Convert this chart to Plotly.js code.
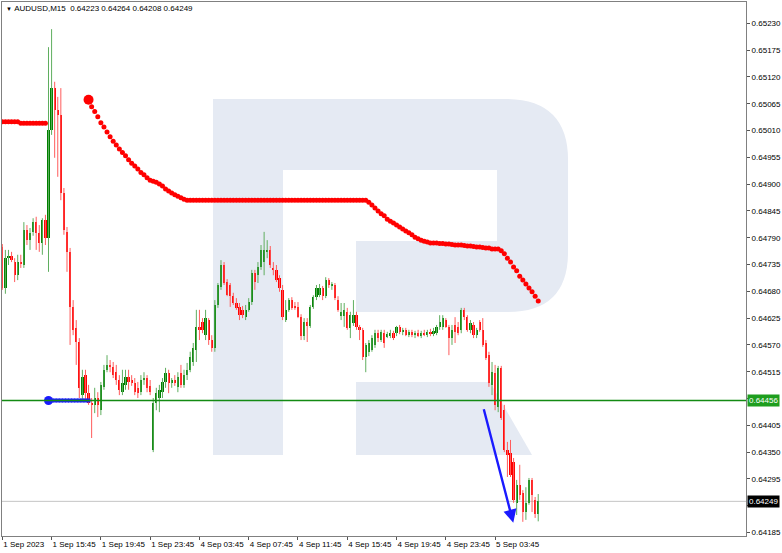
<!DOCTYPE html>
<html><head><meta charset="utf-8">
<script src="https://cdn.plot.ly/plotly-3.0.1.min.js"></script>
<style>html,body{margin:0;padding:0;background:#fff}#chart{width:782px;height:553px}</style>
</head><body><div id="chart"></div>
<script>
const symbol = 'AUDUSD,M15';
const open = [
0.64771,0.64687,0.64748,0.64752,0.64740,0.64713,0.64740,0.64734,0.64806,0.64785,
0.64802,0.64822,0.64800,0.64779,0.64826,0.64789,0.65011,0.65097,0.65052,0.65042,
0.64882,0.64802,0.64761,0.64648,0.64605,0.64576,0.64467,0.64508,0.64471,0.64451,
0.64447,0.64461,0.64436,0.64484,0.64519,0.64529,0.64525,0.64514,0.64498,0.64473,
0.64488,0.64504,0.64498,0.64492,0.64482,0.64473,0.64498,0.64502,0.64486,0.64354,
0.64451,0.64461,0.64473,0.64494,0.64512,0.64492,0.64498,0.64484,0.64512,0.64488,
0.64508,0.64519,0.64535,0.64560,0.64607,0.64617,0.64590,0.64621,0.64580,0.64564,
0.64652,0.64689,0.64734,0.64699,0.64693,0.64670,0.64656,0.64648,0.64642,0.64627,
0.64642,0.64658,0.64718,0.64713,0.64730,0.64740,0.64761,0.64765,0.64728,0.64724,
0.64707,0.64683,0.64621,0.64642,0.64662,0.64650,0.64648,0.64627,0.64588,0.64617,
0.64609,0.64648,0.64668,0.64672,0.64687,0.64670,0.64703,0.64691,0.64693,0.64662,
0.64629,0.64629,0.64638,0.64605,0.64615,0.64631,0.64607,0.64601,0.64545,0.64556,
0.64560,0.64570,0.64594,0.64580,0.64594,0.64586,0.64588,0.64594,0.64594,0.64607,
0.64597,0.64601,0.64590,0.64597,0.64590,0.64594,0.64588,0.64594,0.64590,0.64597,
0.64592,0.64594,0.64607,0.64607,0.64621,0.64607,0.64584,0.64611,0.64607,0.64601,
0.64642,0.64627,0.64601,0.64611,0.64590,0.64617,0.64601,0.64574,0.64549,0.64488,
0.64512,0.64443,0.64523,0.64436,0.64354,0.64348,0.64330,0.64246,0.64283,0.64266,
0.64227,0.64246,0.64293,0.64252,0.64223];
const high = [
0.64777,0.64765,0.64765,0.64761,0.64748,0.64755,0.64755,0.64822,0.64816,0.64810,
0.64830,0.64833,0.64816,0.64830,0.64837,0.65181,0.65218,0.65110,0.65079,0.65097,
0.64892,0.64812,0.64769,0.64662,0.64621,0.64584,0.64519,0.64519,0.64488,0.64461,
0.64482,0.64473,0.64494,0.64529,0.64549,0.64539,0.64535,0.64529,0.64508,0.64519,
0.64519,0.64519,0.64508,0.64502,0.64494,0.64508,0.64514,0.64508,0.64498,0.64461,
0.64482,0.64488,0.64502,0.64523,0.64519,0.64502,0.64508,0.64514,0.64529,0.64519,
0.64533,0.64556,0.64574,0.64642,0.64642,0.64625,0.64642,0.64625,0.64590,0.64662,
0.64697,0.64744,0.64740,0.64705,0.64697,0.64677,0.64666,0.64656,0.64650,0.64652,
0.64666,0.64724,0.64724,0.64740,0.64775,0.64802,0.64785,0.64773,0.64740,0.64734,
0.64713,0.64693,0.64662,0.64666,0.64668,0.64658,0.64658,0.64633,0.64625,0.64625,
0.64652,0.64672,0.64693,0.64695,0.64691,0.64709,0.64707,0.64699,0.64697,0.64670,
0.64656,0.64656,0.64646,0.64638,0.64662,0.64638,0.64611,0.64605,0.64574,0.64580,
0.64590,0.64601,0.64601,0.64601,0.64601,0.64597,0.64601,0.64599,0.64609,0.64611,
0.64605,0.64605,0.64601,0.64601,0.64599,0.64601,0.64599,0.64601,0.64601,0.64603,
0.64605,0.64611,0.64631,0.64631,0.64625,0.64611,0.64611,0.64627,0.64617,0.64646,
0.64646,0.64631,0.64621,0.64617,0.64605,0.64621,0.64625,0.64580,0.64556,0.64535,
0.64529,0.64527,0.64527,0.64447,0.64371,0.64375,0.64338,0.64293,0.64324,0.64272,
0.64278,0.64297,0.64297,0.64258,0.64264];
const low = [
0.64683,0.64675,0.64734,0.64740,0.64699,0.64703,0.64728,0.64728,0.64775,0.64765,
0.64794,0.64765,0.64761,0.64755,0.64775,0.64720,0.65001,0.64954,0.64915,0.64867,
0.64796,0.64720,0.64570,0.64590,0.64529,0.64461,0.64457,0.64457,0.64447,0.64379,
0.64430,0.64422,0.64426,0.64478,0.64514,0.64514,0.64502,0.64488,0.64467,0.64467,
0.64478,0.64478,0.64486,0.64467,0.64461,0.64467,0.64488,0.64473,0.64467,0.64350,
0.64436,0.64432,0.64461,0.64482,0.64471,0.64482,0.64486,0.64473,0.64482,0.64482,
0.64498,0.64514,0.64527,0.64535,0.64580,0.64594,0.64580,0.64570,0.64556,0.64556,
0.64646,0.64683,0.64693,0.64670,0.64648,0.64652,0.64642,0.64621,0.64625,0.64621,
0.64638,0.64652,0.64683,0.64697,0.64724,0.64713,0.64748,0.64728,0.64713,0.64699,
0.64679,0.64621,0.64617,0.64638,0.64642,0.64642,0.64625,0.64580,0.64580,0.64576,
0.64605,0.64644,0.64662,0.64668,0.64662,0.64666,0.64687,0.64683,0.64662,0.64638,
0.64621,0.64607,0.64601,0.64584,0.64609,0.64601,0.64580,0.64539,0.64514,0.64547,
0.64556,0.64564,0.64576,0.64576,0.64564,0.64584,0.64584,0.64580,0.64588,0.64592,
0.64590,0.64588,0.64586,0.64586,0.64584,0.64586,0.64584,0.64588,0.64586,0.64588,
0.64588,0.64590,0.64601,0.64601,0.64605,0.64549,0.64570,0.64574,0.64590,0.64594,
0.64621,0.64597,0.64594,0.64584,0.64584,0.64597,0.64566,0.64539,0.64484,0.64467,
0.64436,0.64432,0.64416,0.64350,0.64299,0.64299,0.64246,0.64221,0.64252,0.64207,
0.64211,0.64242,0.64227,0.64215,0.64208];
const close = [
0.64687,0.64748,0.64752,0.64744,0.64713,0.64740,0.64736,0.64806,0.64785,0.64800,
0.64822,0.64800,0.64779,0.64826,0.64789,0.65011,0.65097,0.65052,0.65042,0.64882,
0.64806,0.64761,0.64648,0.64601,0.64576,0.64482,0.64504,0.64471,0.64451,0.64447,
0.64461,0.64447,0.64488,0.64519,0.64529,0.64525,0.64508,0.64498,0.64478,0.64492,
0.64504,0.64494,0.64492,0.64473,0.64471,0.64498,0.64502,0.64482,0.64473,0.64451,
0.64471,0.64478,0.64494,0.64512,0.64492,0.64498,0.64492,0.64504,0.64488,0.64508,
0.64519,0.64545,0.64564,0.64607,0.64601,0.64601,0.64625,0.64580,0.64564,0.64652,
0.64693,0.64734,0.64697,0.64672,0.64670,0.64656,0.64646,0.64631,0.64631,0.64642,
0.64658,0.64718,0.64699,0.64730,0.64765,0.64765,0.64765,0.64734,0.64724,0.64703,
0.64687,0.64627,0.64642,0.64662,0.64646,0.64646,0.64627,0.64588,0.64617,0.64609,
0.64648,0.64668,0.64687,0.64687,0.64670,0.64703,0.64693,0.64695,0.64666,0.64642,
0.64638,0.64642,0.64605,0.64631,0.64631,0.64607,0.64601,0.64545,0.64570,0.64574,
0.64584,0.64594,0.64584,0.64597,0.64574,0.64592,0.64594,0.64584,0.64607,0.64597,
0.64601,0.64590,0.64597,0.64590,0.64594,0.64588,0.64594,0.64590,0.64597,0.64592,
0.64599,0.64607,0.64617,0.64625,0.64607,0.64584,0.64601,0.64597,0.64594,0.64642,
0.64627,0.64601,0.64615,0.64590,0.64601,0.64601,0.64570,0.64543,0.64492,0.64514,
0.64447,0.64523,0.64420,0.64354,0.64344,0.64303,0.64252,0.64283,0.64262,0.64227,
0.64246,0.64293,0.64262,0.64223,0.64249];
// dotted red indicator (one value per bar, null where not drawn)
const maLine = [
0.65028,0.65028,0.65028,0.65028,0.65028,0.65028,0.65025,0.65025,0.65025,0.65025,
0.65025,0.65025,0.65025,0.65025,0.65025,null,null,null,null,null,
null,null,null,null,null,null,null,null,0.65073,0.65059,
0.65049,0.65038,0.65026,0.65017,0.65007,0.64997,0.64988,0.64980,0.64972,0.64965,
0.64958,0.64950,0.64943,0.64937,0.64931,0.64924,0.64919,0.64913,0.64908,0.64906,
0.64904,0.64900,0.64896,0.64890,0.64886,0.64882,0.64878,0.64875,0.64872,0.64869,
0.64867,0.64867,0.64867,0.64867,0.64867,0.64867,0.64867,0.64867,0.64867,0.64867,
0.64867,0.64867,0.64867,0.64867,0.64867,0.64867,0.64867,0.64867,0.64867,0.64867,
0.64867,0.64867,0.64867,0.64867,0.64867,0.64867,0.64867,0.64867,0.64867,0.64867,
0.64867,0.64867,0.64867,0.64867,0.64867,0.64867,0.64867,0.64867,0.64867,0.64867,
0.64867,0.64867,0.64867,0.64867,0.64867,0.64867,0.64867,0.64867,0.64867,0.64867,
0.64867,0.64867,0.64867,0.64867,0.64867,0.64867,0.64867,0.64867,0.64867,0.64863,
0.64857,0.64851,0.64845,0.64839,0.64835,0.64828,0.64824,0.64820,0.64816,0.64812,
0.64808,0.64804,0.64800,0.64796,0.64791,0.64788,0.64785,0.64783,0.64781,0.64779,
0.64779,0.64779,0.64778,0.64778,0.64777,0.64777,0.64776,0.64775,0.64775,0.64775,
0.64774,0.64773,0.64773,0.64772,0.64771,0.64771,0.64770,0.64769,0.64769,0.64767,
0.64767,0.64767,0.64763,0.64757,0.64748,0.64740,0.64730,0.64722,0.64711,0.64703,
0.64695,0.64687,0.64679,0.64670,0.64660];
const maStartBar = 28;
// blue dotted support segment
const supportBars = [15,16,17,18,19,20,21,22,23,24,25,26,27,28];
const supportPrices = [0.64456,0.64456,0.64456,0.64456,0.64456,0.64456,0.64456,0.64456,0.64456,0.64456,0.64456,0.64456,0.64456,0.64456];
const levelPrice = 0.64456;
const arrowFrom = [156.2, 0.64441];
const arrowTo = [165.9, 0.64205];
const tickBars = [0,16,32,48,64,80,96,112,128,144,160];
const tickLabels = ['1 Sep 2023','1 Sep 15:45','1 Sep 19:45','1 Sep 23:45','4 Sep 03:45','4 Sep 07:45','4 Sep 11:45','4 Sep 15:45','4 Sep 19:45','4 Sep 23:45','5 Sep 03:45'];
const priceTicks = [0.65230,0.65175,0.65120,0.65065,0.65010,0.64955,0.64900,0.64845,0.64790,0.64735,0.64680,0.64625,0.64570,0.64515,0.64460,0.64405,0.64350,0.64295,0.64240,0.64185];

const FONT = 'Liberation Sans, Arial, sans-serif';
const UP = '#008000', DN = '#ff0000';
const n = close.length;
const idx = open.map((_, i) => i);

const wu = {x: [], y: []}, wd = {x: [], y: []};
const base = [], hgt = [], cols = [];
for (let i = 0; i < n; i++) {
  const w = close[i] >= open[i] ? wu : wd;
  w.x.push(i, i, null); w.y.push(low[i], high[i], null);
  let b = Math.min(open[i], close[i]), h = Math.abs(close[i] - open[i]);
  if (h < 0.00002) { b -= (0.00002 - h) / 2; h = 0.00002; }
  base.push(b); hgt.push(h);
  cols.push(close[i] > open[i] ? UP : (close[i] < open[i] ? DN : '#000000'));
}

const traces = [
  {type: 'scatter', mode: 'lines', x: wu.x, y: wu.y, line: {color: '#5fae5f', width: 1}, hoverinfo: 'skip'},
  {type: 'scatter', mode: 'lines', x: wd.x, y: wd.y, line: {color: '#ff5c5c', width: 1}, hoverinfo: 'skip'},
  {type: 'bar', x: idx, y: hgt, base: base, width: 0.72, marker: {color: cols, line: {width: 0}}, hoverinfo: 'skip'},
  {type: 'scatter', mode: 'markers', x: idx, y: maLine, marker: {color: '#ff0000', size: 5}, hoverinfo: 'skip'},
  {type: 'scatter', mode: 'markers', x: [maStartBar], y: [maLine[maStartBar]], marker: {color: '#ff0000', size: 10}, hoverinfo: 'skip'},
  {type: 'scatter', mode: 'markers', x: supportBars, y: supportPrices, marker: {color: '#1a1aff', size: 4, symbol: 'square'}, hoverinfo: 'skip'},
  {type: 'scatter', mode: 'markers', x: [supportBars[0]], y: [supportPrices[0]], marker: {color: '#1a1aff', size: 9}, hoverinfo: 'skip'}
];

// watermark logo (decoration) in plot-paper fractions from pixel layout
const PL = 2, PR = 746, PT = 2, PB = 536;
const P = (x, y) => ((x - PL) / (PR - PL)).toFixed(4) + ',' + ((PB - y) / (PB - PT)).toFixed(4);
const logoFill = '#e5eaf3';
const logoPaths = [
  'M' + P(213,99) + ' L' + P(283,99) + ' L' + P(283,455) + ' L' + P(213,455) + ' Z',
  'M' + P(283,99) + ' L' + P(505,99) + ' Q' + P(568,99) + ' ' + P(568,160) + ' L' + P(568,252) +
    ' Q' + P(568,312) + ' ' + P(508,312) + ' L' + P(356,312) + ' L' + P(356,241) + ' L' + P(497,241) +
    ' L' + P(497,170) + ' L' + P(283,170) + ' Z',
  'M' + P(356,382) + ' L' + P(490,382) + ' L' + P(532,455) + ' L' + P(356,455) + ' Z'
];
const shapes = logoPaths.map(p => ({type: 'path', path: p, xref: 'paper', yref: 'paper', fillcolor: logoFill, line: {width: 0}, layer: 'below'}));
shapes.push({type: 'line', xref: 'paper', yref: 'y', x0: 0, x1: 1, y0: close[n - 1], y1: close[n - 1], line: {color: '#c4c4c4', width: 1}, layer: 'below'});
shapes.push({type: 'line', xref: 'paper', yref: 'y', x0: 0, x1: 1, y0: levelPrice, y1: levelPrice, line: {color: '#138a13', width: 1.6}});

// price labels hidden under the level / last-price boxes are left blank
const hiddenTicks = [0.64460, 0.64240];
const priceTickText = priceTicks.map(v => hiddenTicks.includes(v) ? '' : v.toFixed(5));

const nb = '\u00a0';
const annotations = [
  {xref: 'paper', yref: 'paper', x: 0.003, y: 1, xanchor: 'left', yanchor: 'top', yshift: 0, showarrow: false,
   text: '<span style="font-size:6px">▼</span>' + nb + symbol + nb + nb + open[n-1].toFixed(5) + ' ' + high[n-1].toFixed(5) + ' ' + low[n-1].toFixed(5) + ' ' + close[n-1].toFixed(5),
   font: {family: FONT, size: 8, color: '#000'}},
  {xref: 'paper', yref: 'y', x: 1, y: levelPrice, xanchor: 'left', yanchor: 'middle', xshift: 1, showarrow: false,
   text: levelPrice.toFixed(5), bgcolor: '#1e9e1e', borderpad: 1, font: {family: FONT, size: 8, color: '#ffffff'}},
  {xref: 'paper', yref: 'y', x: 1, y: close[n-1], xanchor: 'left', yanchor: 'middle', xshift: 1, showarrow: false,
   text: close[n-1].toFixed(5), bgcolor: '#000000', borderpad: 1, font: {family: FONT, size: 8, color: '#ffffff'}},
  {xref: 'x', yref: 'y', x: arrowTo[0], y: arrowTo[1], axref: 'x', ayref: 'y', ax: arrowFrom[0], ay: arrowFrom[1],
   text: '', showarrow: true, arrowhead: 2, arrowsize: 1.1, arrowwidth: 2.4, arrowcolor: '#1a1aff', standoff: 0}
];

const layout = {
  width: 782, height: 553,
  margin: {l: PL, r: 782 - PR, t: PT, b: 553 - PB, pad: 0},
  paper_bgcolor: '#ffffff', plot_bgcolor: '#ffffff',
  showlegend: false, hovermode: false, bargap: 0,
  xaxis: {range: [-0.1, 241.46], tickvals: tickBars, ticktext: tickLabels, ticks: 'outside', ticklen: 3,
          tickcolor: '#555', showline: true, mirror: true, linecolor: '#808080', linewidth: 1,
          showgrid: false, zeroline: false, ticklabelposition: 'outside right', tickangle: 0,
          ticklabelstandoff: 0, automargin: false,
          tickfont: {family: FONT, size: 8, color: '#000'}, fixedrange: true},
  yaxis: {side: 'right', range: [0.641779, 0.652737], tickvals: priceTicks, ticktext: priceTickText,
          ticks: 'outside', ticklen: 3, tickcolor: '#555', showline: true, mirror: true, linecolor: '#808080',
          linewidth: 1, showgrid: false, zeroline: false, automargin: false,
          tickfont: {family: FONT, size: 8, color: '#000'}, fixedrange: true},
  shapes: shapes, annotations: annotations
};

Plotly.newPlot('chart', traces, layout, {staticPlot: true, displayModeBar: false});
</script></body></html>
